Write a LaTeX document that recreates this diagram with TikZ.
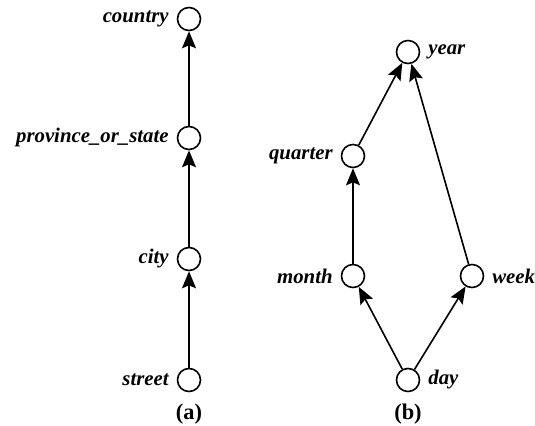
\documentclass[tikz,border=0pt]{standalone}
\usepackage{fontspec}
\setmainfont{Liberation Serif}
\usetikzlibrary{arrows.meta}

\begin{document}
\begin{tikzpicture}[x=0.5pt, y=-0.5pt,
    vertex/.style={circle, draw, thick, inner sep=0pt, minimum size=11.5pt},
    every label/.style={font=\fontsize{10.4}{12}\selectfont\bfseries\itshape, label distance=0.5pt},
    caption/.style={font=\fontsize{11.2}{13}\selectfont\bfseries},
    hier/.style={thick, -{Stealth[length=8.5pt,width=7pt,inset=1.5pt]}}]
    \useasboundingbox (0,0) rectangle (535,426);

    % --- (a) location ---
    \node[vertex, label=left:country] (country) at (189,19) {};
    \node[vertex, label=left:province\_or\_state] (prov) at (189,138) {};
    \node[vertex, label=left:city] (city) at (189,259) {};
    \node[vertex, label=left:street] (street) at (189,380) {};
    \draw[hier] (street) -- (city);
    \draw[hier] (city) -- (prov);
    \draw[hier] (prov) -- (country);
    \node[caption] (capa) at (189,414) {(a)};

    % --- (b) time ---
    \node[vertex, label=right:year] (year) at (408,52) {};
    \node[vertex, label=left:quarter] (quarter) at (353,156) {};
    \node[vertex, label=left:month] (month) at (353,276) {};
    \node[vertex, label=right:week] (week) at (472,276) {};
    \node[vertex, label=right:day] (day) at (408,380) {};
    \foreach \a/\b in {day/month, day/week, month/quarter, quarter/year, week/year}
        \draw[hier] (\a) -- (\b);
    \node[caption] (capb) at (408,414) {(b)};
\end{tikzpicture}
\end{document}
